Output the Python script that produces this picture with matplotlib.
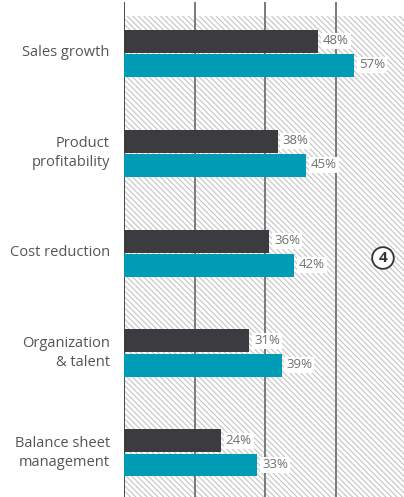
import matplotlib.pyplot as plt
import matplotlib.patches as mpatches
import numpy as np

plt.rcParams['font.family'] = ['Open Sans', 'DejaVu Sans']
plt.rcParams['hatch.linewidth'] = 0.8

categories = ["Sales growth", "Product\nprofitability", "Cost reduction",
              "Organization\n& talent", "Balance sheet\nmanagement"]
series_dark = [48, 38, 36, 31, 24]
series_teal = [57, 45, 42, 39, 33]
grid_x = [17.5, 35, 52.5]

dark = "#3b3b40"
teal = "#009bb4"

fig = plt.figure(figsize=(4.04, 4.97), dpi=100)
ax = fig.add_axes([124 / 404, 0, 1 - 124 / 404, 1])

xmax = 280 / 4.04
ax.set_xlim(0, xmax)
ax.set_ylim(4.44, -0.53)

# hatched background
bg = mpatches.Rectangle((0, -0.37), xmax, 4.81, facecolor="white",
                        edgecolor="#c4c4c4", hatch="\\" * 6, lw=0, zorder=0)
ax.add_patch(bg)

top = 1 - 3 / 497
ax.axvline(0, ymin=0, ymax=top, color="#4a4a4a", lw=1.4, zorder=1)
for gx in grid_x:
    ax.axvline(gx, ymin=0, ymax=top, color="#7a7a7a", lw=1.4, zorder=1)

y = np.arange(len(categories))
h = 0.23
ax.barh(y - 0.12, series_dark, height=h, color=dark, zorder=2)
ax.barh(y + 0.12, series_teal, height=h, color=teal, zorder=2)

for yi, v in zip(y - 0.12, series_dark):
    ax.text(v + 1.2, yi, f"{v}%", va="center", ha="left", fontsize=9.5,
            color="#707070", zorder=3,
            bbox=dict(boxstyle="square,pad=0.15", fc="white", ec="none"))
for yi, v in zip(y + 0.12, series_teal):
    ax.text(v + 1.2, yi, f"{v}%", va="center", ha="left", fontsize=9.5,
            color="#707070", zorder=3,
            bbox=dict(boxstyle="square,pad=0.15", fc="white", ec="none"))

for yi, c in zip(y, categories):
    ax.text(-3.5, yi, c, ha="right", va="center", fontsize=10.5,
            color="#555555", linespacing=1.35)

ax.text(64.1, 2.05, "4", ha="center", va="center", fontsize=11,
        fontweight="bold", color="#333333", zorder=4,
        bbox=dict(boxstyle="circle,pad=0.25", fc="white", ec="#333333", lw=1.3))

for s in ax.spines.values():
    s.set_visible(False)
ax.set_xticks([])
ax.set_yticks([])

fig.savefig("out.png", dpi=100)
